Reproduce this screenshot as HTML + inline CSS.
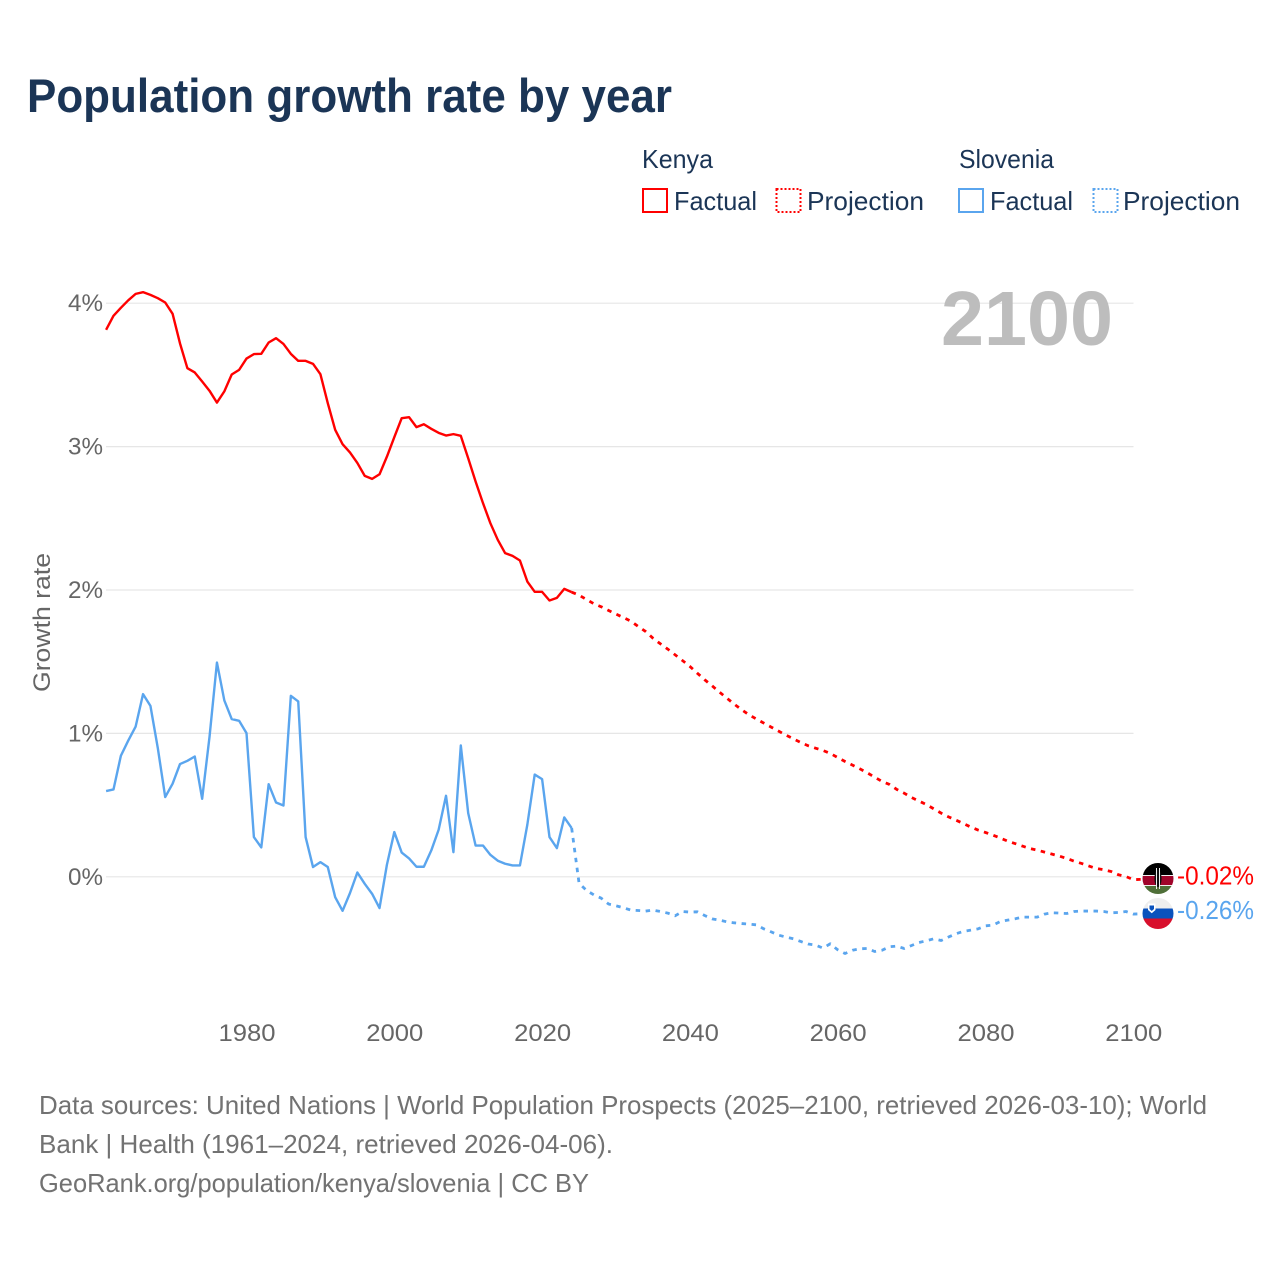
<!DOCTYPE html>
<html lang="en">
<head>
<meta charset="utf-8">
<title>Population growth rate by year</title>
<style>
  html, body { margin: 0; padding: 0; background: #fff; }
  svg { display: block; }
  text { font-family: "Liberation Sans", "DejaVu Sans", sans-serif; }
</style>
</head>
<body>
<svg id="chart" xmlns="http://www.w3.org/2000/svg" width="1280" height="1280" viewBox="0 0 1280 1280">
  <defs>
    <clipPath id="flag-clip-ke"><circle cx="1158" cy="878.5" r="15.5"/></clipPath>
    <clipPath id="flag-clip-si"><circle cx="1158" cy="913.5" r="15.5"/></clipPath>
  </defs>
  <rect x="0" y="0" width="1280" height="1280" fill="#ffffff"/>

  <text x="27" y="112" font-size="47" font-weight="700" fill="#1b3556" textLength="645" lengthAdjust="spacingAndGlyphs">Population growth rate by year</text>

  <g>
    <text x="642" y="168" font-size="26" fill="#1b3556" textLength="71" lengthAdjust="spacingAndGlyphs">Kenya</text>
    <text x="959" y="168" font-size="26" fill="#1b3556" textLength="95" lengthAdjust="spacingAndGlyphs">Slovenia</text>
    <g>
      <rect x="643" y="189" width="24" height="23" fill="none" stroke="#ff0000" stroke-width="2"/>
      <text x="674" y="210" font-size="26" fill="#1b3556" textLength="83" lengthAdjust="spacingAndGlyphs">Factual</text>
    </g>
    <g>
      <rect x="776.5" y="189" width="24" height="23" fill="none" stroke="#ff0000" stroke-width="2" stroke-dasharray="2 2"/>
      <text x="807" y="210" font-size="26" fill="#1b3556" textLength="117" lengthAdjust="spacingAndGlyphs">Projection</text>
    </g>
    <g>
      <rect x="959" y="189" width="24" height="23" fill="none" stroke="#5aa5ee" stroke-width="2"/>
      <text x="990" y="210" font-size="26" fill="#1b3556" textLength="83" lengthAdjust="spacingAndGlyphs">Factual</text>
    </g>
    <g>
      <rect x="1093.5" y="189" width="24" height="23" fill="none" stroke="#5aa5ee" stroke-width="2" stroke-dasharray="2 2"/>
      <text x="1123" y="210" font-size="26" fill="#1b3556" textLength="117" lengthAdjust="spacingAndGlyphs">Projection</text>
    </g>
  </g>

  <g id="grid"></g>
  <g id="y-axis"></g>
  <g id="x-axis"></g>
  <text transform="translate(50 622.5) rotate(-90)" text-anchor="middle" font-size="24" fill="#666666" textLength="139" lengthAdjust="spacingAndGlyphs">Growth rate</text>

  <text x="941" y="345" font-size="77" font-weight="700" fill="#bdbdbd" textLength="172" lengthAdjust="spacingAndGlyphs">2100</text>

  <g id="series"></g>

  <g clip-path="url(#flag-clip-ke)">
    <rect x="1142" y="863" width="32" height="12" fill="#000000"/>
    <rect x="1142" y="875" width="32" height="11.5" fill="#f0f0f0"/>
    <rect x="1142" y="876" width="32" height="9" fill="#a0042a"/>
    <rect x="1142" y="886" width="32" height="9" fill="#4f6f38"/>
    <ellipse cx="1158" cy="878.5" rx="3.6" ry="8.5" fill="#111111"/>
    <rect x="1156" y="868" width="1" height="21" fill="#f0f0f0"/>
    <rect x="1159" y="868" width="1" height="21" fill="#f0f0f0"/>
  </g>
  <g clip-path="url(#flag-clip-si)">
    <rect x="1142" y="898" width="32" height="10.5" fill="#eeeeee"/>
    <rect x="1142" y="908.5" width="32" height="10" fill="#0a52bd"/>
    <rect x="1142" y="918.5" width="32" height="11" fill="#d80f2c"/>
    <path d="M1148 903.5 h7.5 v6.5 l-3.75 3.2 l-3.75 -3.2 z" fill="#ffffff"/>
    <path d="M1149.5 905.5 h4.5 v3.5 l-2.25 2 l-2.25 -2 z" fill="#0a52bd"/>
  </g>

  <g id="end-labels"></g>

  <g>
    <text x="39" y="1114" font-size="26" fill="#727272" textLength="1168" lengthAdjust="spacingAndGlyphs">Data sources: United Nations | World Population Prospects (2025–2100, retrieved 2026-03-10); World</text>
    <text x="39" y="1153" font-size="26" fill="#727272" textLength="574" lengthAdjust="spacingAndGlyphs">Bank | Health (1961–2024, retrieved 2026-04-06).</text>
    <text x="39" y="1192" font-size="26" fill="#727272" textLength="550" lengthAdjust="spacingAndGlyphs">GeoRank.org/population/kenya/slovenia | CC BY</text>
  </g>
</svg>

<script>
// Chart data (percent growth per year)
const factualStartYear = 1961;
const projectionStartYear = 2024;
const xTickYears = [1980, 2000, 2020, 2040, 2060, 2080, 2100];
const yTickValues = [0, 1, 2, 3, 4];
const kenyaFactual = [3.814,3.912,3.968,4.02,4.065,4.077,4.058,4.035,4.005,3.926,3.72,3.547,3.517,3.454,3.389,3.307,3.385,3.503,3.535,3.614,3.645,3.647,3.726,3.756,3.716,3.647,3.598,3.598,3.577,3.505,3.303,3.117,3.017,2.959,2.886,2.796,2.775,2.807,2.93,3.066,3.198,3.205,3.136,3.156,3.124,3.096,3.077,3.087,3.075,2.919,2.757,2.606,2.466,2.35,2.257,2.238,2.206,2.059,1.987,1.987,1.927,1.945,2.008,1.985];
const kenyaProjection = [1.985,1.964,1.934,1.904,1.883,1.857,1.832,1.808,1.783,1.746,1.711,1.664,1.625,1.588,1.548,1.508,1.467,1.42,1.374,1.332,1.288,1.246,1.204,1.165,1.13,1.1,1.072,1.044,1.016,0.988,0.962,0.937,0.914,0.897,0.881,0.86,0.832,0.804,0.779,0.753,0.725,0.695,0.665,0.644,0.609,0.583,0.553,0.528,0.504,0.474,0.444,0.418,0.395,0.372,0.347,0.326,0.309,0.291,0.27,0.249,0.232,0.214,0.197,0.186,0.172,0.158,0.144,0.128,0.109,0.093,0.075,0.058,0.049,0.037,0.014,0.002,-0.02];
const sloveniaFactual = [0.598,0.609,0.844,0.95,1.048,1.274,1.192,0.897,0.556,0.649,0.786,0.809,0.839,0.544,0.978,1.494,1.23,1.1,1.088,1.002,0.277,0.205,0.646,0.518,0.497,1.262,1.223,0.277,0.068,0.102,0.068,-0.142,-0.237,-0.114,0.03,-0.049,-0.119,-0.218,0.084,0.312,0.169,0.128,0.07,0.07,0.183,0.328,0.565,0.172,0.916,0.444,0.218,0.218,0.153,0.112,0.091,0.079,0.079,0.363,0.713,0.681,0.277,0.2,0.414,0.34];
const sloveniaProjection = [0.34,-0.044,-0.095,-0.126,-0.149,-0.19,-0.202,-0.216,-0.232,-0.235,-0.239,-0.232,-0.242,-0.253,-0.272,-0.242,-0.246,-0.244,-0.27,-0.293,-0.302,-0.314,-0.321,-0.326,-0.33,-0.335,-0.363,-0.384,-0.407,-0.42,-0.432,-0.451,-0.469,-0.476,-0.497,-0.467,-0.509,-0.535,-0.512,-0.502,-0.5,-0.521,-0.512,-0.488,-0.483,-0.5,-0.479,-0.458,-0.446,-0.432,-0.444,-0.42,-0.397,-0.381,-0.372,-0.363,-0.342,-0.337,-0.312,-0.302,-0.293,-0.281,-0.281,-0.281,-0.26,-0.251,-0.253,-0.256,-0.242,-0.239,-0.239,-0.239,-0.242,-0.251,-0.249,-0.242,-0.26];
const endLabelKenya = "-0.02%";
const endLabelSlovenia = "-0.26%";

const SVG_NS = "http://www.w3.org/2000/svg";
function xScale(year) { return 246.5 + (year - 1980) * 7.39; }
function yScale(value) { return 876.8 - value * 143.4; }
function linePath(values, startYear) {
  return values.map(function (v, i) {
    return (i ? "L" : "M") + xScale(startYear + i).toFixed(2) + " " + yScale(v).toFixed(2);
  }).join(" ");
}

const grid = document.getElementById("grid");
const yAxis = document.getElementById("y-axis");
yTickValues.forEach(function (v) {
  const line = document.createElementNS(SVG_NS, "line");
  
  
  line.setAttribute("x1", 106);
  line.setAttribute("x2", 1133.5);
  line.setAttribute("y1", yScale(v));
  line.setAttribute("y2", yScale(v));
  line.setAttribute("stroke", "#e6e6e6");
  line.setAttribute("stroke-width", "1.2");
  grid.appendChild(line);

  const label = document.createElementNS(SVG_NS, "text");
  
  
  label.setAttribute("x", 68);
  label.setAttribute("y", yScale(v) + 8);
  label.setAttribute("font-size", "24");
  label.setAttribute("fill", "#666666");
  label.setAttribute("textLength", "35");
  label.setAttribute("lengthAdjust", "spacingAndGlyphs");
  label.textContent = v + "%";
  yAxis.appendChild(label);
});

const xAxis = document.getElementById("x-axis");
xTickYears.forEach(function (year) {
  const label = document.createElementNS(SVG_NS, "text");
  
  
  label.setAttribute("x", xScale(year) - 28);
  label.setAttribute("y", 1041);
  label.setAttribute("font-size", "24");
  label.setAttribute("fill", "#666666");
  label.setAttribute("textLength", "57");
  label.setAttribute("lengthAdjust", "spacingAndGlyphs");
  label.textContent = String(year);
  xAxis.appendChild(label);
});

const seriesGroup = document.getElementById("series");
function addLine(name, d, colour, dashed) {
  const path = document.createElementNS(SVG_NS, "path");
  
  
  path.setAttribute("d", d);
  path.setAttribute("fill", "none");
  path.setAttribute("stroke", colour);
  path.setAttribute("stroke-width", dashed ? "2.8" : "2.4");
  path.setAttribute("stroke-linejoin", "round");
  if (dashed) { path.setAttribute("stroke-dasharray", "4.5 5.5"); }
  seriesGroup.appendChild(path);
}
function connector(values) {
  const last = values[values.length - 1];
  const lastYear = projectionStartYear + values.length - 1;
  return " L1158 " + (yScale(last) - 1).toFixed(2) + " M" + xScale(lastYear).toFixed(2) + " " + yScale(last).toFixed(2);
}
addLine('kenya-factual-line', linePath(kenyaFactual, factualStartYear), "#ff0000", false);
addLine('slovenia-factual-line', linePath(sloveniaFactual, factualStartYear), "#5aa5ee", false);
addLine('kenya-projection-line', linePath(kenyaProjection, projectionStartYear) + connector(kenyaProjection), "#ff0000", true);
addLine('slovenia-projection-line', linePath(sloveniaProjection, projectionStartYear) + connector(sloveniaProjection), "#5aa5ee", true);

const endLabels = document.getElementById("end-labels");
const kenyaEnd = document.createElementNS(SVG_NS, "text");


kenyaEnd.setAttribute("x", 1177);
kenyaEnd.setAttribute("y", yScale(kenyaProjection[kenyaProjection.length - 1]) + 5);
kenyaEnd.setAttribute("font-size", "26");
kenyaEnd.setAttribute("fill", "#ff0000");
kenyaEnd.setAttribute("textLength", "77");
kenyaEnd.setAttribute("lengthAdjust", "spacingAndGlyphs");
kenyaEnd.textContent = endLabelKenya;
endLabels.appendChild(kenyaEnd);

const sloveniaEnd = document.createElementNS(SVG_NS, "text");


sloveniaEnd.setAttribute("x", 1177);
sloveniaEnd.setAttribute("y", yScale(sloveniaProjection[sloveniaProjection.length - 1]) + 5);
sloveniaEnd.setAttribute("font-size", "26");
sloveniaEnd.setAttribute("fill", "#5aa5ee");
sloveniaEnd.setAttribute("textLength", "77");
sloveniaEnd.setAttribute("lengthAdjust", "spacingAndGlyphs");
sloveniaEnd.textContent = endLabelSlovenia;
endLabels.appendChild(sloveniaEnd);
</script>
</body>
</html>
